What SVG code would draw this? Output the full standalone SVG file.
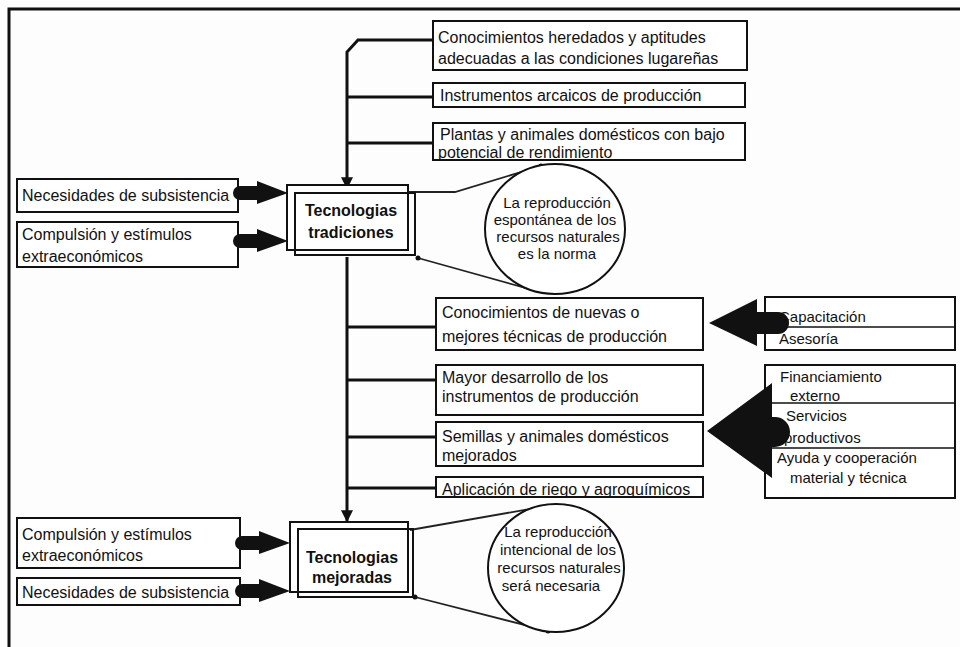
<svg xmlns="http://www.w3.org/2000/svg" width="960" height="647" viewBox="0 0 960 647">
<defs>
<style>
.box{fill:#fff;stroke:#111;stroke-width:2}
.t{font-family:"Liberation Sans",Arial,sans-serif;font-size:16px;fill:#111}
.s{font-size:15px}
.b{font-weight:bold}
.m{text-anchor:middle}
.ln{stroke:#111;stroke-width:3;fill:none}
.thin{stroke:#222;stroke-width:1.8;fill:none}
.fat{fill:#111;stroke:none}
.ell{fill:#fff;stroke:#111;stroke-width:2}
</style>
<marker id="ah" viewBox="0 0 10 10" refX="9" refY="5" markerWidth="4" markerHeight="4" orient="auto" markerUnits="strokeWidth">
<path d="M0,0 L10,5 L0,10 Z" fill="#111"/>
</marker>
</defs>
<rect width="960" height="647" fill="#fdfdfd"/>
<g id="frame">
<path d="M9,647 V9 H960" class="ln" stroke-width="3.5"/>
</g>

<g id="connectors">
<path class="ln" d="M433,40 H358 L347,52 V188" marker-end="url(#ah)"/>
<path class="ln" d="M347,97 H433"/>
<path class="ln" d="M347,143 H433"/>
<path class="ln" d="M347,257 V521" marker-end="url(#ah)"/>
<path class="ln" d="M347,327 H436"/>
<path class="ln" d="M347,380 H436"/>
<path class="ln" d="M347,437 H436"/>
<path class="ln" d="M347,488 H436"/>
<path class="thin" d="M408,192 H455 L541,166"/>
<path class="thin" d="M418,258 L540,292"/>
<path class="thin" d="M410,530 L553,505"/>
<path class="thin" d="M415,597 L548,631"/>
<circle cx="541" cy="166" r="2.5" fill="#111"/>
<circle cx="418" cy="258" r="2.5" fill="#111"/>
<circle cx="415" cy="597" r="2.5" fill="#111"/>
<circle cx="548" cy="631" r="2.5" fill="#111"/>
</g>

<g id="n-top1"><rect class="box" x="433" y="21" width="314" height="49"/>
<text class="t" x="438" y="43">Conocimientos heredados y aptitudes</text>
<text class="t" x="438" y="64">adecuadas a las condiciones lugareñas</text></g>
<g id="n-top2"><rect class="box" x="433" y="83" width="312" height="24"/>
<text class="t" x="440" y="101">Instrumentos arcaicos de producción</text></g>
<g id="n-top3"><rect class="box" x="433" y="123" width="312" height="37"/>
<text class="t" x="440" y="140">Plantas y animales domésticos con bajo</text>
<text class="t" x="438" y="158">potencial de rendimiento</text></g>

<g id="n-nec1"><rect class="box" x="17" y="179" width="221" height="33"/>
<text class="t" x="22" y="201">Necesidades de subsistencia</text></g>
<g id="n-comp1"><rect class="box" x="17" y="222" width="221" height="45"/>
<text class="t" x="22" y="240">Compulsión y estímulos</text>
<text class="t" x="22" y="262">extraeconómicos</text></g>

<g id="n-trad">
<rect class="box" x="287" y="185" width="121" height="65"/>
<rect x="295" y="193" width="120" height="62" fill="none" stroke="#111" stroke-width="2"/>
<text class="t b m" x="351" y="216">Tecnologias</text>
<text class="t b m" x="351" y="238">tradiciones</text></g>

<g id="n-ell1"><ellipse class="ell" cx="555" cy="229" rx="70" ry="65"/>
<text class="t s m" x="557" y="208">La reproducción</text>
<text class="t s m" x="555" y="225">espontánea de los</text>
<text class="t s m" x="558" y="242">recursos naturales</text>
<text class="t s m" x="557" y="259">es la norma</text></g>

<g id="n-mid1"><rect class="box" x="436" y="298" width="267" height="52"/>
<text class="t" x="442" y="318">Conocimientos de nuevas  o</text>
<text class="t" x="442" y="342">mejores técnicas de producción</text></g>
<g id="n-mid2"><rect class="box" x="436" y="365" width="267" height="50"/>
<text class="t" x="442" y="383">Mayor desarrollo de los</text>
<text class="t" x="442" y="402">instrumentos de producción</text></g>
<g id="n-mid3"><rect class="box" x="436" y="422" width="267" height="44"/>
<text class="t" x="442" y="442">Semillas y animales domésticos</text>
<text class="t" x="442" y="461">mejorados</text></g>
<g id="n-mid4"><rect class="box" x="436" y="477" width="267" height="20"/>
<text class="t" x="442" y="495">Aplicación de riego y agroquímicos</text></g>

<g id="n-cap"><rect class="box" x="765" y="297" width="190" height="53"/>
<line x1="765" y1="327" x2="955" y2="327" stroke="#111" stroke-width="1.5"/>
<text class="t s" x="779" y="322">Capacitación</text>
<text class="t s" x="779" y="344">Asesoría</text></g>
<g id="n-fin"><rect class="box" x="765" y="365" width="190" height="133"/>
<line x1="765" y1="403" x2="955" y2="403" stroke="#111" stroke-width="1.5"/>
<line x1="765" y1="448" x2="955" y2="448" stroke="#111" stroke-width="1.5"/>
<text class="t s" x="780" y="382">Financiamiento</text>
<text class="t s" x="790" y="401">externo</text>
<text class="t s" x="786" y="421">Servicios</text>
<text class="t s" x="784" y="443">productivos</text>
<text class="t s" x="777" y="463">Ayuda y cooperación</text>
<text class="t s" x="790" y="483">material y técnica</text></g>

<g id="n-comp2"><rect class="box" x="17" y="518" width="223" height="50"/>
<text class="t" x="22" y="540">Compulsión y estímulos</text>
<text class="t" x="22" y="561">extraeconómicos</text></g>
<g id="n-nec2"><rect class="box" x="17" y="578" width="223" height="27"/>
<text class="t" x="22" y="598">Necesidades de subsistencia</text></g>

<g id="n-mej">
<rect class="box" x="290" y="522" width="118" height="70"/>
<rect x="298" y="529" width="115" height="68" fill="none" stroke="#111" stroke-width="2"/>
<text class="t b m" x="352" y="563">Tecnologias</text>
<text class="t b m" x="352" y="583">mejoradas</text></g>

<g id="n-ell2"><ellipse class="ell" cx="556" cy="568" rx="68" ry="64"/>
<text class="t s m" x="558" y="537">La reproducción</text>
<text class="t s m" x="558" y="555">intencional de los</text>
<text class="t s m" x="559" y="573">recursos naturales</text>
<text class="t s m" x="551" y="591">será necesaria</text></g>

<g id="arrows">
<path class="fat" d="M240,186 H257 V181 L288,193 L257,204 V200 H240 A7,7 0 0 1 240,186 Z"/>
<path class="fat" d="M240,234 H257 V229 L288,241 L257,252 V248 H240 A7,7 0 0 1 240,234 Z"/>
<path class="fat" d="M242,536 H259 V531 L290,543 L259,554 V550 H242 A7,7 0 0 1 242,536 Z"/>
<path class="fat" d="M242,584 H259 V579 L290,591 L259,602 V598 H242 A7,7 0 0 1 242,584 Z"/>
<path class="fat" d="M757,299 L709,323 L757,346 V334 H778 A11,11 0 0 0 778,312 H757 Z"/>
<path class="fat" d="M772,383 L707,431 L772,478 V447 H775 A15,15 0 0 0 775,417 H772 Z"/>
</g>
</svg>
